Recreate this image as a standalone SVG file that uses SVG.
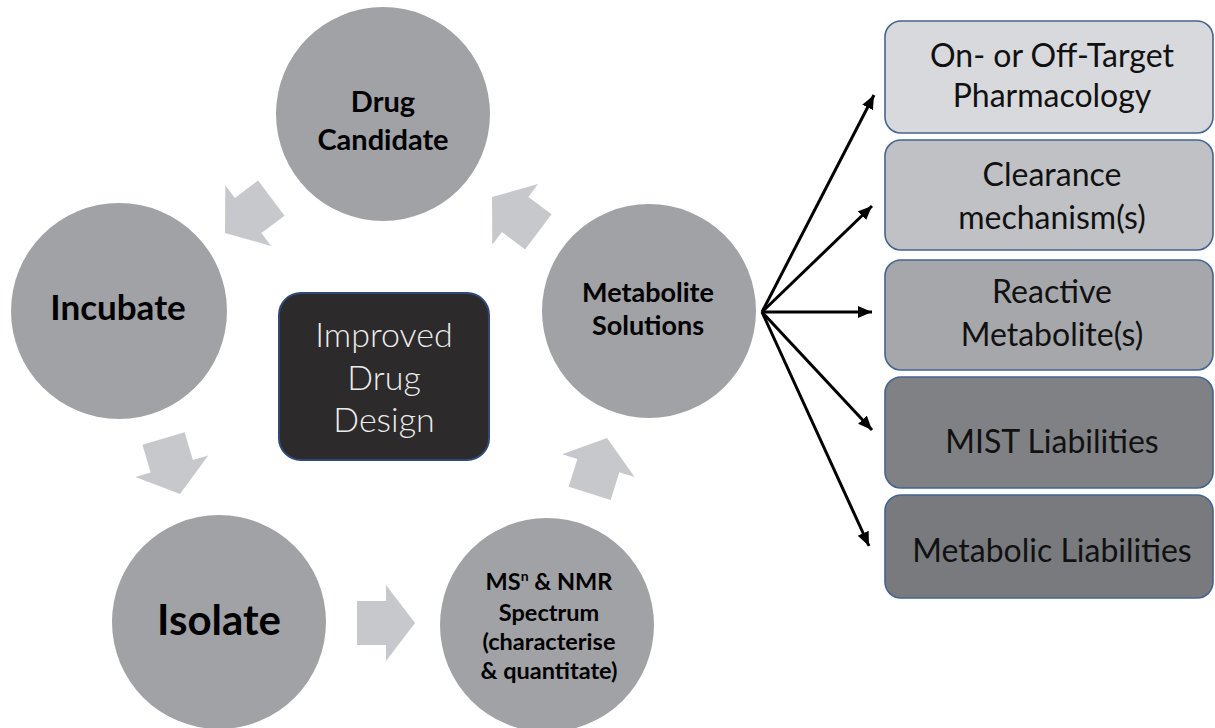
<svg xmlns="http://www.w3.org/2000/svg" xmlns:xlink="http://www.w3.org/1999/xlink" width="1215" height="728" viewBox="0 0 1215 728">
  <defs>
    <style>
      .step { fill: #a0a2a6; }
      .blk { fill: #c6c8cb; }
      .lbl { font-family: Lato, "Liberation Sans", sans-serif; font-weight: 700; fill: #000; text-anchor: middle; }
      .box { stroke: #44648f; stroke-width: 1.6; }
      .btxt { font-family: Lato, "Liberation Sans", sans-serif; font-size: 32px; fill: #111; text-anchor: middle; }
      .light { font-family: Lato, "Liberation Sans", sans-serif; font-weight: 300; font-size: 34px; fill: #ececec; text-anchor: middle; }
      .link { stroke: #000; stroke-width: 3; fill: none; marker-end: url(#head); }
    </style>
    <!-- block arrow pointing along +x, tip at the origin -->
    <path id="blk" d="M0,0 L-29,-38 L-29,-22 L-58,-22 L-58,22 L-29,22 L-29,38 Z"/>
    <marker id="head" markerUnits="userSpaceOnUse" markerWidth="16" markerHeight="14" refX="14" refY="6" orient="auto">
      <path d="M0,0 L14,6 L0,12 Z" fill="#000"/>
    </marker>
  </defs>

  <rect width="1215" height="728" fill="#fff"/>

  <!-- cycle arrows between the steps -->
  <g id="cycle-arrows" class="blk">
    <use xlink:href="#blk" transform="translate(225,233) rotate(143)"/>
    <use xlink:href="#blk" transform="translate(492,197) rotate(-143)"/>
    <use xlink:href="#blk" transform="translate(180,494) rotate(73.5)"/>
    <use xlink:href="#blk" transform="translate(415,623)"/>
    <use xlink:href="#blk" transform="translate(607,438) rotate(-72.6)"/>
  </g>

  <g id="drug-candidate">
    <circle class="step" cx="383" cy="114" r="107"/>
    <text class="lbl" x="383" y="112" font-size="29">Drug</text>
    <text class="lbl" x="383" y="150" font-size="29">Candidate</text>
  </g>

  <g id="incubate">
    <circle class="step" cx="119" cy="311" r="108"/>
    <text class="lbl" x="118" y="320" font-size="35">Incubate</text>
  </g>

  <g id="metabolite-solutions">
    <circle class="step" cx="649" cy="311" r="107"/>
    <text class="lbl" x="648" y="302" font-size="27">Metabolite</text>
    <text class="lbl" x="648" y="335" font-size="27">Solutions</text>
  </g>

  <g id="isolate">
    <circle class="step" cx="219" cy="622" r="107"/>
    <text class="lbl" x="219" y="635" font-size="42">Isolate</text>
  </g>

  <g id="spectrum">
    <circle class="step" cx="547" cy="625" r="107"/>
    <text class="lbl" x="549" y="590" font-size="23.5">MS<tspan font-size="14" dy="-9">n</tspan><tspan dy="9"> &amp; NMR</tspan></text>
    <text class="lbl" x="549" y="621" font-size="23.5">Spectrum</text>
    <text class="lbl" x="549" y="650" font-size="23.5">(characterise</text>
    <text class="lbl" x="549" y="679" font-size="23.5">&amp; quantitate)</text>
  </g>

  <g id="improved-design">
    <rect x="279" y="293" width="210" height="167" rx="22" fill="#2d2a2b" stroke="#2f4878" stroke-width="2"/>
    <text class="light" x="384" y="347">Improved</text>
    <text class="light" x="384" y="390">Drug</text>
    <text class="light" x="384" y="432">Design</text>
  </g>

  <!-- outcomes -->
  <g id="pharmacology">
    <rect class="box" x="885" y="21" width="328" height="112" rx="16" fill="#d8d9dc"/>
    <text class="btxt" x="1052" y="67">On- or Off-Target</text>
    <text class="btxt" x="1052" y="107">Pharmacology</text>
  </g>
  <g id="clearance">
    <rect class="box" x="885" y="140" width="328" height="110" rx="16" fill="#bfc1c4"/>
    <text class="btxt" x="1052" y="186">Clearance</text>
    <text class="btxt" x="1052" y="229">mechanism(s)</text>
  </g>
  <g id="reactive">
    <rect class="box" x="885" y="260" width="328" height="110" rx="16" fill="#a5a7ab"/>
    <text class="btxt" x="1052" y="303">Reactive</text>
    <text class="btxt" x="1052" y="346">Metabolite(s)</text>
  </g>
  <g id="mist">
    <rect class="box" x="885" y="377" width="328" height="111" rx="16" fill="#7f8185"/>
    <text class="btxt" x="1052" y="453">MIST Liabilities</text>
  </g>
  <g id="metabolic">
    <rect class="box" x="885" y="495" width="328" height="103" rx="16" fill="#787a7e"/>
    <text class="btxt" x="1052" y="562">Metabolic Liabilities</text>
  </g>

  <g id="connectors">
    <line class="link" x1="762" y1="312" x2="874" y2="95"/>
    <line class="link" x1="762" y1="312" x2="872" y2="206"/>
    <line class="link" x1="762" y1="312" x2="872" y2="312"/>
    <line class="link" x1="762" y1="312" x2="872" y2="430"/>
    <line class="link" x1="762" y1="312" x2="869" y2="546"/>
  </g>
</svg>
